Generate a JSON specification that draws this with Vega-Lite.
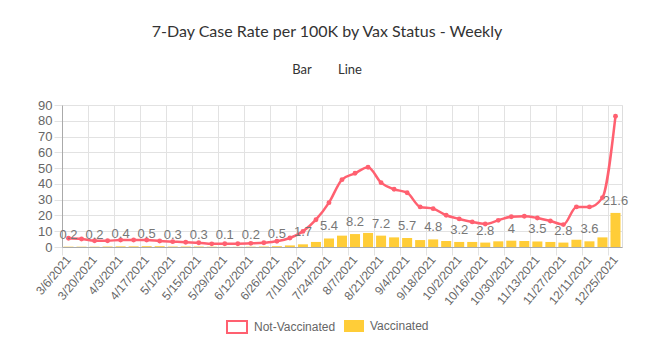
{
  "$schema": "https://vega.github.io/schema/vega-lite/v6.json",
  "width": 560,
  "height": 142,
  "autosize": {"type": "none"},
  "padding": {"left": 62, "top": 105, "right": 34, "bottom": 109},
  "background": "white",
  "title": {
    "text": "7-Day Case Rate per 100K by Vax Status - Weekly",
    "subtitle": "Bar\u00a0\u00a0\u00a0\u00a0\u00a0\u00a0\u00a0\u00a0Line",
    "font": "Lato",
    "fontSize": 16,
    "fontWeight": "normal",
    "color": "#333333",
    "subtitleFont": "Lato",
    "subtitleFontSize": 13,
    "subtitleColor": "#333333",
    "subtitlePadding": 24,
    "offset": 22,
    "anchor": "middle",
    "frame": "group",
    "dx": -15
  },
  "datasets": {
    "weekly": [
      {"week": "3/6/2021", "status": "Not-Vaccinated", "rate": 5.5}, {"week": "3/6/2021", "status": "Vaccinated", "rate": 0.2},
      {"week": "3/13/2021", "status": "Not-Vaccinated", "rate": 5.1}, {"week": "3/13/2021", "status": "Vaccinated", "rate": 0.2},
      {"week": "3/20/2021", "status": "Not-Vaccinated", "rate": 4.0}, {"week": "3/20/2021", "status": "Vaccinated", "rate": 0.2},
      {"week": "3/27/2021", "status": "Not-Vaccinated", "rate": 4.0}, {"week": "3/27/2021", "status": "Vaccinated", "rate": 0.3},
      {"week": "4/3/2021", "status": "Not-Vaccinated", "rate": 4.4}, {"week": "4/3/2021", "status": "Vaccinated", "rate": 0.4},
      {"week": "4/10/2021", "status": "Not-Vaccinated", "rate": 4.4}, {"week": "4/10/2021", "status": "Vaccinated", "rate": 0.4},
      {"week": "4/17/2021", "status": "Not-Vaccinated", "rate": 4.4}, {"week": "4/17/2021", "status": "Vaccinated", "rate": 0.5},
      {"week": "4/24/2021", "status": "Not-Vaccinated", "rate": 3.8}, {"week": "4/24/2021", "status": "Vaccinated", "rate": 0.5},
      {"week": "5/1/2021", "status": "Not-Vaccinated", "rate": 3.4}, {"week": "5/1/2021", "status": "Vaccinated", "rate": 0.3},
      {"week": "5/8/2021", "status": "Not-Vaccinated", "rate": 3.0}, {"week": "5/8/2021", "status": "Vaccinated", "rate": 0.3},
      {"week": "5/15/2021", "status": "Not-Vaccinated", "rate": 2.7}, {"week": "5/15/2021", "status": "Vaccinated", "rate": 0.3},
      {"week": "5/22/2021", "status": "Not-Vaccinated", "rate": 2.0}, {"week": "5/22/2021", "status": "Vaccinated", "rate": 0.2},
      {"week": "5/29/2021", "status": "Not-Vaccinated", "rate": 2.1}, {"week": "5/29/2021", "status": "Vaccinated", "rate": 0.1},
      {"week": "6/5/2021", "status": "Not-Vaccinated", "rate": 2.1}, {"week": "6/5/2021", "status": "Vaccinated", "rate": 0.1},
      {"week": "6/12/2021", "status": "Not-Vaccinated", "rate": 2.3}, {"week": "6/12/2021", "status": "Vaccinated", "rate": 0.2},
      {"week": "6/19/2021", "status": "Not-Vaccinated", "rate": 2.7}, {"week": "6/19/2021", "status": "Vaccinated", "rate": 0.3},
      {"week": "6/26/2021", "status": "Not-Vaccinated", "rate": 3.6}, {"week": "6/26/2021", "status": "Vaccinated", "rate": 0.5},
      {"week": "7/3/2021", "status": "Not-Vaccinated", "rate": 5.7}, {"week": "7/3/2021", "status": "Vaccinated", "rate": 1.0},
      {"week": "7/10/2021", "status": "Not-Vaccinated", "rate": 9.9}, {"week": "7/10/2021", "status": "Vaccinated", "rate": 1.7},
      {"week": "7/17/2021", "status": "Not-Vaccinated", "rate": 17.3}, {"week": "7/17/2021", "status": "Vaccinated", "rate": 3.2},
      {"week": "7/24/2021", "status": "Not-Vaccinated", "rate": 28.1}, {"week": "7/24/2021", "status": "Vaccinated", "rate": 5.4},
      {"week": "7/31/2021", "status": "Not-Vaccinated", "rate": 42.7}, {"week": "7/31/2021", "status": "Vaccinated", "rate": 7.2},
      {"week": "8/7/2021", "status": "Not-Vaccinated", "rate": 46.7}, {"week": "8/7/2021", "status": "Vaccinated", "rate": 8.2},
      {"week": "8/14/2021", "status": "Not-Vaccinated", "rate": 50.5}, {"week": "8/14/2021", "status": "Vaccinated", "rate": 8.9},
      {"week": "8/21/2021", "status": "Not-Vaccinated", "rate": 40.8}, {"week": "8/21/2021", "status": "Vaccinated", "rate": 7.2},
      {"week": "8/28/2021", "status": "Not-Vaccinated", "rate": 36.6}, {"week": "8/28/2021", "status": "Vaccinated", "rate": 6.1},
      {"week": "9/4/2021", "status": "Not-Vaccinated", "rate": 34.4}, {"week": "9/4/2021", "status": "Vaccinated", "rate": 5.7},
      {"week": "9/11/2021", "status": "Not-Vaccinated", "rate": 25.4}, {"week": "9/11/2021", "status": "Vaccinated", "rate": 4.4},
      {"week": "9/18/2021", "status": "Not-Vaccinated", "rate": 24.3}, {"week": "9/18/2021", "status": "Vaccinated", "rate": 4.8},
      {"week": "9/25/2021", "status": "Not-Vaccinated", "rate": 20.1}, {"week": "9/25/2021", "status": "Vaccinated", "rate": 3.8},
      {"week": "10/2/2021", "status": "Not-Vaccinated", "rate": 17.8}, {"week": "10/2/2021", "status": "Vaccinated", "rate": 3.2},
      {"week": "10/9/2021", "status": "Not-Vaccinated", "rate": 15.9}, {"week": "10/9/2021", "status": "Vaccinated", "rate": 3.2},
      {"week": "10/16/2021", "status": "Not-Vaccinated", "rate": 14.6}, {"week": "10/16/2021", "status": "Vaccinated", "rate": 2.8},
      {"week": "10/23/2021", "status": "Not-Vaccinated", "rate": 16.9}, {"week": "10/23/2021", "status": "Vaccinated", "rate": 3.6},
      {"week": "10/30/2021", "status": "Not-Vaccinated", "rate": 19.2}, {"week": "10/30/2021", "status": "Vaccinated", "rate": 4},
      {"week": "11/6/2021", "status": "Not-Vaccinated", "rate": 19.5}, {"week": "11/6/2021", "status": "Vaccinated", "rate": 3.8},
      {"week": "11/13/2021", "status": "Not-Vaccinated", "rate": 18.4}, {"week": "11/13/2021", "status": "Vaccinated", "rate": 3.5},
      {"week": "11/20/2021", "status": "Not-Vaccinated", "rate": 16.5}, {"week": "11/20/2021", "status": "Vaccinated", "rate": 3.2},
      {"week": "11/27/2021", "status": "Not-Vaccinated", "rate": 14.2}, {"week": "11/27/2021", "status": "Vaccinated", "rate": 2.8},
      {"week": "12/4/2021", "status": "Not-Vaccinated", "rate": 25.4}, {"week": "12/4/2021", "status": "Vaccinated", "rate": 4.6},
      {"week": "12/11/2021", "status": "Not-Vaccinated", "rate": 25.4}, {"week": "12/11/2021", "status": "Vaccinated", "rate": 3.6},
      {"week": "12/18/2021", "status": "Not-Vaccinated", "rate": 31.3}, {"week": "12/18/2021", "status": "Vaccinated", "rate": 6.1},
      {"week": "12/25/2021", "status": "Not-Vaccinated", "rate": 82.9}, {"week": "12/25/2021", "status": "Vaccinated", "rate": 21.6}
    ]
  },
  "data": {"name": "weekly"},
  "encoding": {
    "x": {
      "field": "week",
      "type": "nominal",
      "sort": null,
      "scale": {"paddingInner": 0, "paddingOuter": 0},
      "axis": {
        "title": null,
        "values": ["3/6/2021", "3/20/2021", "4/3/2021", "4/17/2021", "5/1/2021", "5/15/2021", "5/29/2021", "6/12/2021", "6/26/2021", "7/10/2021", "7/24/2021", "8/7/2021", "8/21/2021", "9/4/2021", "9/18/2021", "10/2/2021", "10/16/2021", "10/30/2021", "11/13/2021", "11/27/2021", "12/11/2021", "12/25/2021"],
        "bandPosition": 0,
        "labelAngle": -50,
        "labelFont": "Liberation Sans",
        "labelFontSize": 12,
        "labelColor": "#666666",
        "labelPadding": 2,
        "labelOverlap": false,
        "grid": true,
        "gridColor": "#e2e2e2",
        "tickColor": "#e2e2e2",
        "tickSize": 8,
        "domainColor": "#aaaaaa"
      }
    },
    "y": {
      "field": "rate",
      "type": "quantitative",
      "scale": {"domain": [0, 90]},
      "axis": {
        "title": null,
        "values": [0, 10, 20, 30, 40, 50, 60, 70, 80, 90],
        "labelOverlap": false,
        "labelFont": "Liberation Sans",
        "labelFontSize": 13,
        "labelColor": "#666666",
        "labelPadding": 2,
        "tickSize": 8,
        "tickColor": "#e2e2e2",
        "gridColor": "#e2e2e2",
        "domainColor": "#aaaaaa"
      }
    }
  },
  "layer": [
    {
      "transform": [{"filter": "datum.status === 'Vaccinated'"}],
      "mark": {"type": "bar", "width": {"band": 0.77}},
      "encoding": {
        "color": {
          "field": "status",
          "type": "nominal",
          "scale": {"domain": ["Vaccinated"], "range": ["#ffcd38"]},
          "legend": {
            "title": null,
            "orient": "none",
            "legendX": 282,
            "legendY": 211,
            "symbolType": "M-1,-0.6H1V0.6H-1Z",
            "symbolSize": 400,
            "symbolStrokeWidth": 0,
            "labelFont": "Liberation Sans",
            "labelFontSize": 12,
            "labelColor": "#666666",
            "labelOffset": 6
          }
        }
      }
    },
    {
      "transform": [{"filter": "datum.status === 'Not-Vaccinated'"}],
      "mark": {"type": "line", "interpolate": "monotone", "strokeWidth": 2.5},
      "encoding": {
        "stroke": {
          "field": "status",
          "type": "nominal",
          "scale": {"domain": ["Not-Vaccinated"], "range": ["#ff6070"]},
          "legend": {
            "title": null,
            "orient": "none",
            "legendX": 164,
            "legendY": 211,
            "symbolType": "M-1,-0.6H1V0.6H-1Z",
            "symbolSize": 400,
            "symbolStrokeWidth": 2,
            "symbolFillColor": "#ffffff",
            "labelFont": "Liberation Sans",
            "labelFontSize": 12,
            "labelColor": "#666666",
            "labelOffset": 6
          }
        }
      }
    },
    {
      "transform": [{"filter": "datum.status === 'Not-Vaccinated'"}],
      "mark": {"type": "point", "filled": true, "size": 24, "color": "#ff6070", "opacity": 1}
    },
    {
      "transform": [
        {"filter": "datum.status === 'Vaccinated'"},
        {"window": [{"op": "row_number", "as": "rn"}]},
        {"filter": "datum.rn % 2 == 1"}
      ],
      "mark": {"type": "text", "dy": -12, "font": "Liberation Sans", "fontSize": 13, "color": "#777777"},
      "encoding": {
        "text": {"field": "rate", "type": "nominal"}
      }
    }
  ],
  "resolve": {"legend": {"color": "independent", "stroke": "independent"}}
}
